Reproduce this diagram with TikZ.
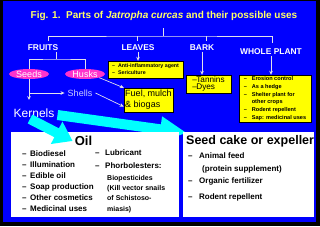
\documentclass[tikz,border=0pt]{standalone}
\usepackage{fontspec}
\setmainfont{Liberation Sans}
\usetikzlibrary{arrows.meta,shapes.geometric,calc}
\pgfdeclarelayer{bg}
\pgfsetlayers{bg,main}
\definecolor{bgblue}{RGB}{0,0,255}
\definecolor{titley}{RGB}{255,255,102}
\definecolor{pinkc}{RGB}{255,51,204}
\definecolor{boxy}{RGB}{255,255,0}
\definecolor{arrowc}{RGB}{0,255,255}
\definecolor{linec}{RGB}{225,225,235}
\definecolor{shellc}{RGB}{205,205,255}
\newcommand\fsz[2]{\fontsize{#1}{#2}\selectfont}
\newcommand\ditem[2]{\makebox[#1][l]{--}#2}
\begin{document}
\begin{tikzpicture}[x=1pt,y=-1pt,
  titletext/.style={inner sep=0pt, text=titley, font=\fsz{10}{12}\bfseries, anchor=base},
  toplabel/.style={inner sep=0pt, text=white, font=\fsz{8.4}{10}\bfseries, anchor=base},
  treeline/.style={draw=linec, line width=0.9pt},
  thinarrow/.style={draw=linec, line width=0.7pt, -{Stealth[length=4pt,width=3.6pt]}},
  yellowbox/.style={fill=boxy, draw=black, line width=0.4pt, inner sep=0pt, align=left, text=black},
  oval/.style={ellipse, fill=pinkc, inner sep=0pt, minimum width=40pt, minimum height=10pt, text=white, font=\fsz{9}{10}, text height=6pt, text depth=0pt},
  whitebox/.style={fill=white, inner sep=0pt},
  listtext/.style={inner sep=0pt, text=black},
  bigarrow/.style={draw=arrowc, line width=10pt}
]
\useasboundingbox (0,0) rectangle (320,226);
\begin{pgfonlayer}{bg}
\fill[black] (0,0) rectangle (320,226);
\fill[bgblue] (3,1) rectangle (316,222);
\end{pgfonlayer}

% title
\node[titletext] (title) at (164,18.6) {Fig. 1.\ \ Parts of \textit{Jatropha curcas} and their possible uses};

% top labels
\node[toplabel] (fruits) at (43,50) {FRUITS};
\node[toplabel] (leaves) at (138,50) {LEAVES};
\node[toplabel] (bark) at (202,50) {BARK};
\node[toplabel] (whole) at (271,54) {WHOLE PLANT};

% tree
\coordinate (root) at (163,28);
\coordinate (hub) at (163,36);
\coordinate (d1) at (48,41);
\coordinate (d2) at (137,41);
\coordinate (d3) at (206,41);
\coordinate (d4) at (272,43);
\draw[treeline] (root) -- (hub);
\draw[treeline] (d1) |- (hub) -| (d4);
\draw[treeline] (d2) -- (d2 |- hub);
\draw[treeline] (d3) -- (d3 |- hub);

% fruits subtree
\node[oval] (seeds) at (29,74) {Seeds};
\node[oval] (husks) at (85,74) {Husks};
\coordinate (fs) at (56,52);
\coordinate (fj) at (56,59);
\draw[treeline] (fs) -- (fj);
\draw[treeline] (seeds.north) |- (fj) -| (husks.north);

% yellow boxes
\node[yellowbox, minimum width=75pt, minimum height=17pt, font=\fsz{5.3}{7}\bfseries] (leavesbox) at (145.5,69.5)
  {\ditem{6pt}{Anti-inflammatory agent}\\\ditem{6pt}{Sericulture}};
\node[yellowbox, minimum width=45pt, minimum height=18pt, font=\fsz{8.2}{7.5}] (barkbox) at (208.5,84)
  {\ditem{4pt}{Tannins}\\\ditem{4pt}{Dyes}};
\node[yellowbox, minimum width=72pt, minimum height=47pt, font=\fsz{5.6}{7.7}\bfseries] (wholebox) at (275,98.5)
  {\ditem{8pt}{Erosion control}\\\ditem{8pt}{As a hedge}\\\ditem{8pt}{Shelter plant for}\\\hspace*{8pt}other crops\\\ditem{8pt}{Rodent repellent}\\\ditem{8pt}{Sap: medicinal uses}};
\node[yellowbox, minimum width=49pt, minimum height=24pt, font=\fsz{9}{11}] (fuel) at (148.5,100)
  {Fuel, mulch\\\& biogas};

\draw[thinarrow, shorten <=1.5pt] (leaves.south) -- (leaves.south |- leavesbox.north);
\draw[thinarrow, shorten <=1.5pt] (bark.south) -- (bark.south |- barkbox.north);
\draw[thinarrow, shorten <=1.5pt] (whole.south) -- (whole.south |- wholebox.north);

% seeds -> kernels / shells
\node[inner sep=0pt, text=white, font=\fsz{12}{14}] (kernels) at (34,113) {Kernels};
\node[inner xsep=3pt, inner ysep=0pt, text=shellc, font=\fsz{9}{10}] (shells) at (80,93) {Shells};
\coordinate (kt) at (29,100);
\coordinate (sj) at (29,93);
\draw[thinarrow] (seeds.south) -- (kt);
\draw[thinarrow] (sj) -- (shells.west);
\draw[thinarrow] (husks.south east) -- (fuel.north west);
\draw[thinarrow] (shells.east) -- (fuel.195);

% white boxes
\node[whitebox, minimum width=168pt, minimum height=85pt] (oilbox) at (95,174.5) {};
\node[whitebox, minimum width=131pt, minimum height=85pt] (cakebox) at (248.5,174.5) {};

% big arrows
\coordinate (k1) at (30,119);
\coordinate (k2) at (57.5,115);
\coordinate (ct) at (187,133);
\begin{pgfonlayer}{bg}
\draw[bigarrow, -{Triangle[length=27pt,width=24pt]}] (k2) -- (ct);
\end{pgfonlayer}
\node[inner xsep=2pt, inner ysep=0pt, text=black, font=\fsz{13}{15}\bfseries] (oil) at (83.5,141) {Oil};
\draw[bigarrow, -{Triangle[length=18pt,width=24pt]}] (k1) -- (oil.west);

% oil lists
\node[listtext, anchor=north west, align=left, font=\fsz{8}{11}\bfseries] (oillist) at (22,150)
  {\ditem{8pt}{Biodiesel}\\\ditem{8pt}{Illumination}\\\ditem{8pt}{Edible oil}\\\ditem{8pt}{Soap production}\\\ditem{8pt}{Other cosmetics}\\\ditem{8pt}{Medicinal uses}};
\node[listtext, anchor=base west, font=\fsz{8}{10}\bfseries] (lub) at (95,155.9) {\ditem{10pt}{Lubricant}};
\node[listtext, anchor=base west, font=\fsz{8}{10}\bfseries] (phor) at (95,168.9) {\ditem{10pt}{Phorbolesters:}};
\node[listtext, anchor=north west, align=left, font=\fsz{7}{10.3}\bfseries] (biop) at (107,175)
  {Biopesticides\\(Kill vector snails\\of Schistoso-\\miasis)};

% seed cake
\node[listtext, anchor=base west, font=\fsz{12.5}{14}\bfseries] (cake) at (186,144.5) {Seed cake or expeller};
\node[listtext, anchor=base west, font=\fsz{8}{10}\bfseries] (feed) at (188,158.9) {\ditem{11pt}{Animal feed}};
\node[listtext, anchor=base west, font=\fsz{8}{10}\bfseries] (prot) at (202,171.9) {(protein supplement)};
\node[listtext, anchor=base west, font=\fsz{8}{10}\bfseries] (fert) at (188,183.9) {\ditem{11pt}{Organic fertilizer}};
\node[listtext, anchor=base west, font=\fsz{8}{10}\bfseries] (rod) at (188,199.9) {\ditem{11pt}{Rodent repellent}};
\end{tikzpicture}
\end{document}
